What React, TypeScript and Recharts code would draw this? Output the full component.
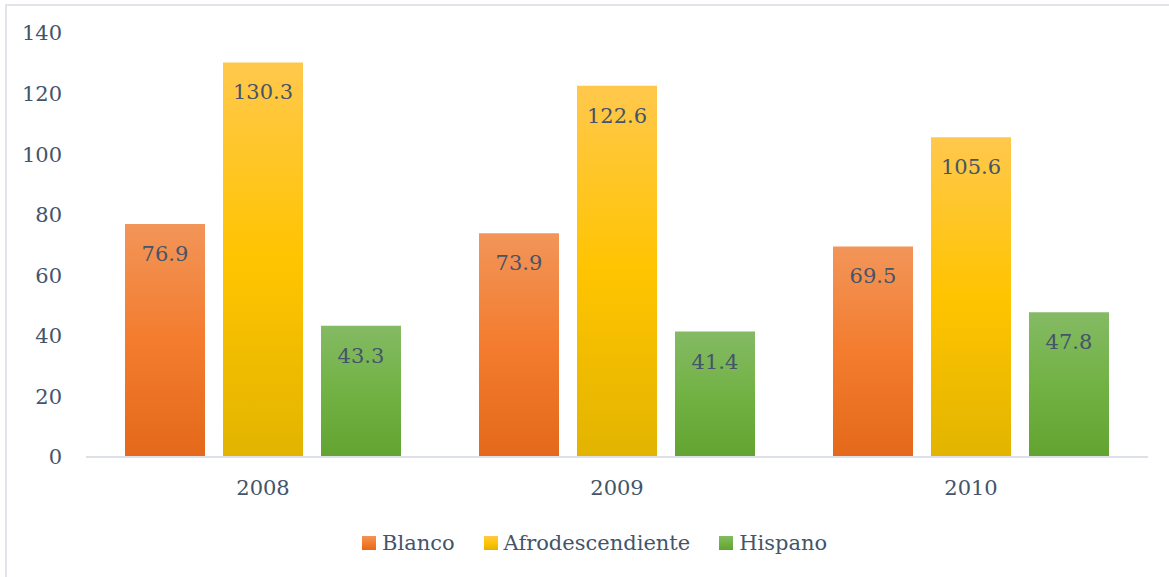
import React from "react";
import { Bar, BarChart, LabelList, Legend, XAxis, YAxis } from "recharts";

const years = ["2008", "2009", "2010"];
const blanco = [76.9, 73.9, 69.5];
const afro = [130.3, 122.6, 105.6];
const hispano = [43.3, 41.4, 47.8];
const yTicks = [0, 20, 40, 60, 80, 100, 120, 140];

const data = years.map((year, i) => ({
  year,
  Blanco: blanco[i],
  Afrodescendiente: afro[i],
  Hispano: hispano[i],
}));

const series = [
  { key: "Blanco", grad: "gBlanco", stops: ["#F29559", "#F37C2E", "#E4691A"] },
  { key: "Afrodescendiente", grad: "gAfro", stops: ["#FFC84C", "#FFC400", "#E2B400"] },
  { key: "Hispano", grad: "gHisp", stops: ["#84BA64", "#72B244", "#62A331"] },
];

// Liberation Serif comes out sans here, so stick to DejaVu Serif
const FONT = "DejaVu Serif";
const TXT = "#44546A";
const FS = 21;

function LegendContent() {
  return (
    <div style={{ display: "flex", alignItems: "center", height: 30, fontFamily: FONT, fontSize: FS, color: TXT }}>
      {series.map((s, i) => (
        <div key={s.key} style={{ display: "flex", alignItems: "center", marginRight: i < 2 ? 29 : 0 }}>
          <div
            style={{
              width: 14,
              height: 14,
              marginRight: 6,
              background: `linear-gradient(${s.stops[0]}, ${s.stops[1]} 50%, ${s.stops[2]})`,
            }}
          />
          <span>{s.key}</span>
        </div>
      ))}
    </div>
  );
}

export default function App() {
  return (
    <div style={{ position: "absolute", left: 0, top: 0, width: 1169, height: 577, overflow: "hidden", background: "#fff", fontFamily: FONT }}>
      <div
        style={{
          position: "absolute",
          left: 5,
          top: 4,
          width: 1200,
          height: 620,
          border: "2px solid #E1E4EB",
        }}
      />
      <div style={{ position: "absolute", left: 0, top: 0 }}>
        <BarChart
          width={1169}
          height={577}
          data={data}
          margin={{ top: 33, right: 21, bottom: 30, left: 0 }}
          barCategoryGap={39}
          barGap={18}
          style={{ fontFamily: FONT }}
        >
          <defs>
            {series.map((s) => (
              <linearGradient key={s.grad} id={s.grad} x1="0" y1="0" x2="0" y2="1">
                <stop offset="0%" stopColor={s.stops[0]} />
                <stop offset="50%" stopColor={s.stops[1]} />
                <stop offset="100%" stopColor={s.stops[2]} />
              </linearGradient>
            ))}
          </defs>
          <XAxis
            dataKey="year"
            height={60}
            axisLine={{ stroke: "#DCE1E8", strokeWidth: 2 }}
            tickLine={false}
            tickSize={0}
            tickMargin={23}
            tick={{ fill: TXT, fontSize: FS, fontFamily: FONT }}
          />
          <YAxis
            width={86}
            domain={[0, 140]}
            ticks={yTicks}
            axisLine={false}
            tickLine={false}
            tickSize={0}
            tickMargin={24}
            tick={{ fill: TXT, fontSize: FS, fontFamily: FONT }}
          />
          <Legend
            content={<LegendContent />}
            verticalAlign="bottom"
            wrapperStyle={{ left: 362, top: 528, width: "auto" }}
          />
          {series.map((s) => (
            <Bar key={s.key} dataKey={s.key} fill={`url(#${s.grad})`} isAnimationActive={false}>
              <LabelList
                dataKey={s.key}
                position="insideTop"
                offset={22}
                fill={TXT}
                fontFamily={FONT}
                fontSize={FS}
              />
            </Bar>
          ))}
        </BarChart>
      </div>
    </div>
  );
}
